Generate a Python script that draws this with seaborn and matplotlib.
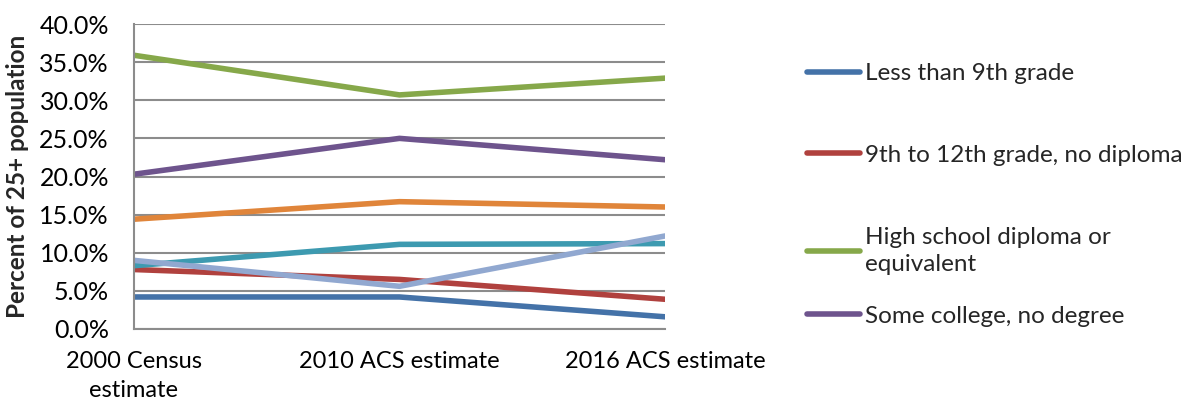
import matplotlib
matplotlib.use("Agg")
import matplotlib.pyplot as plt
from matplotlib.ticker import FuncFormatter
import seaborn as sns
import pandas as pd

# Educational attainment shares of the 25+ population (percent)
periods = ["2000 Census\nestimate", "2010 ACS estimate", "2016 ACS estimate"]
less_than_9th = [4.2, 4.2, 1.6]
grade_9_to_12 = [7.8, 6.5, 3.9]
high_school = [35.9, 30.7, 32.9]
some_college = [20.3, 25.0, 22.2]
associates = [8.3, 11.1, 11.2]
bachelors = [14.4, 16.7, 16.0]
graduate = [9.0, 5.6, 12.2]

series_names = [
    "Less than 9th grade",
    "9th to 12th grade, no diploma",
    "High school diploma or\nequivalent",
    "Some college, no degree",
    "Associate's degree",
    "Bachelor's degree",
    "Graduate or professional degree",
]
series_values = [less_than_9th, grade_9_to_12, high_school, some_college,
                 associates, bachelors, graduate]
colors = ["#4472A8", "#B0413E", "#86A84A", "#6E548D", "#3D9AB0", "#E0853A", "#91A8D0"]

rows = []
for name, vals in zip(series_names, series_values):
    for i, v in enumerate(vals):
        rows.append({"period": i, "series": name, "value": v})
df = pd.DataFrame(rows)

sns.set_style("white")
plt.rcParams["font.family"] = ["Lato", "DejaVu Sans"]

fig = plt.figure(figsize=(11.98, 4.09), dpi=100)
ax = fig.add_axes([134 / 1198, 1 - 329 / 409, (665 - 134) / 1198, (329 - 24) / 409])

sns.lineplot(data=df, x="period", y="value", hue="series", hue_order=series_names,
             palette=colors, linewidth=4.0, ax=ax, legend=False)
for ln in ax.lines:
    ln.set_solid_capstyle("round")
    ln.set_solid_joinstyle("round")

grid_color = "#8C8C8C"
ax.set_xlim(0, 2)
ax.set_ylim(0, 40)
ax.set_yticks(range(0, 41, 5))
ax.yaxis.set_major_formatter(FuncFormatter(lambda v, p: f"{v:.1f}%"))
ax.set_xticks([0, 1, 2])
ax.set_xticklabels(periods, fontsize=17, linespacing=1.45)
ax.grid(axis="y", color=grid_color, linewidth=1.5)
ax.set_axisbelow(True)
for s in ["top", "right"]:
    ax.spines[s].set_visible(False)
for s in ["left", "bottom"]:
    ax.spines[s].set_color(grid_color)
    ax.spines[s].set_linewidth(1.5)
ax.tick_params(axis="both", colors=grid_color, labelcolor="black",
               width=1.5, direction="out")
ax.tick_params(axis="y", length=7, pad=11, labelsize=18)
ax.tick_params(axis="x", length=7, pad=9)
ax.set_xlabel("")
ax.set_ylabel("Percent of 25+ population", fontsize=17.5, fontweight="bold")
ax.yaxis.set_label_coords((29 - 134) / 531, 0.50)

# legend lists the first four series, each placed at its own row
legend_rows = [73.7, 155, 251, 316]
for idx, yrow in zip(range(4), legend_rows):
    h = ax.lines[idx]
    leg = fig.legend([h], [series_names[idx]], loc="center left",
                     bbox_to_anchor=(807 / 1198, 1 - yrow / 409), frameon=False,
                     fontsize=17.5, handlelength=2.2, handletextpad=0.17,
                     borderaxespad=0, borderpad=0)
    for t in leg.get_texts():
        t.set_linespacing(1.4)

fig.savefig("out.png", dpi=100)
